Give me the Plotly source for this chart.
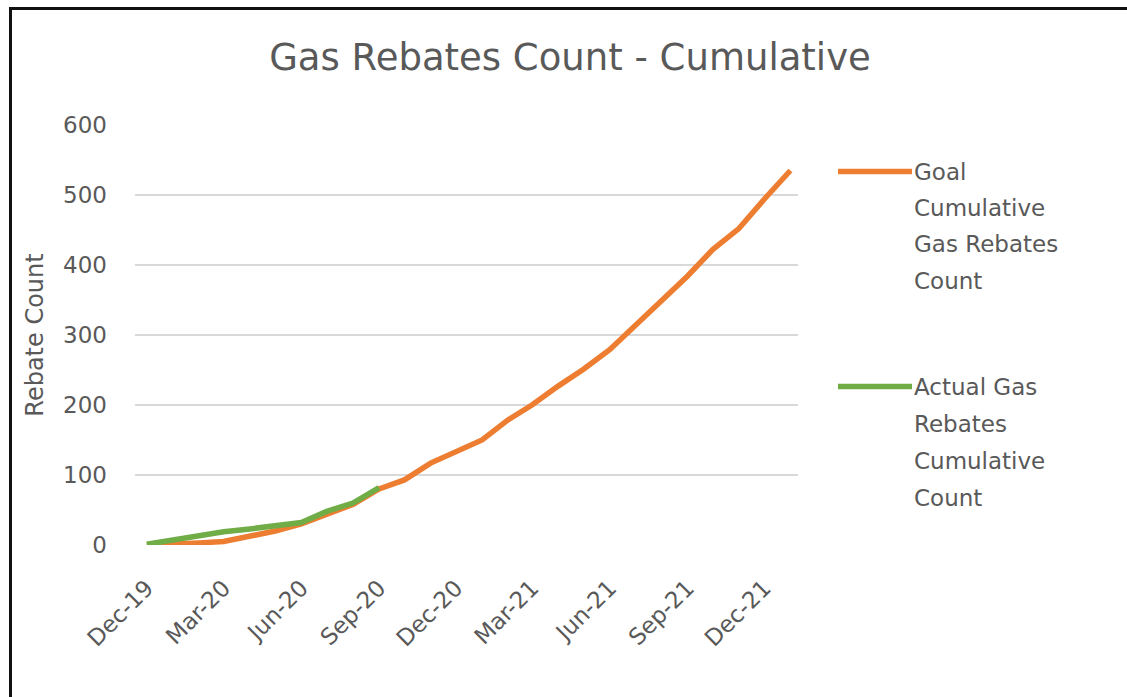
import plotly.graph_objects as go

months = ["2019-12-01", "2020-01-01", "2020-02-01", "2020-03-01", "2020-04-01", "2020-05-01",
          "2020-06-01", "2020-07-01", "2020-08-01", "2020-09-01", "2020-10-01", "2020-11-01",
          "2020-12-01", "2021-01-01", "2021-02-01", "2021-03-01", "2021-04-01", "2021-05-01",
          "2021-06-01", "2021-07-01", "2021-08-01", "2021-09-01", "2021-10-01", "2021-11-01",
          "2021-12-01", "2022-01-01"]
goal = [0, 1, 3, 5, 12, 20, 30, 44, 58, 80, 93, 117, 134, 150, 179, 200, 227, 251, 279,
        313, 347, 384, 422, 452, 494, 535]
actual_months = months[:10]
actual = [1, 7, 14, 19, 23, 27, 32, 48, 60, 82]

tick_vals = ["2019-12-01", "2020-03-01", "2020-06-01", "2020-09-01", "2020-12-01",
             "2021-03-01", "2021-06-01", "2021-09-01", "2021-12-01"]
tick_text = ["Dec-19", "Mar-20", "Jun-20", "Sep-20", "Dec-20", "Mar-21", "Jun-21", "Sep-21", "Dec-21"]

goal_name = ["Goal", "Cumulative", "Gas Rebates", "Count"]
actual_name = ["Actual Gas", "Rebates", "Cumulative", "Count"]

ORANGE = "#ED7D31"
GREEN = "#70AD47"
TXT = "#595959"
FONT = "DejaVu Sans"

W, H = 1127, 697
L, R, T, B = 135, 329, 125, 152
pw, ph = W - L - R, H - T - B


def px(x):
    return (x - L) / pw


def py(y):
    return (H - B - y) / ph


fig = go.Figure()
fig.add_trace(go.Scatter(x=months, y=goal, mode="lines", name=" ".join(goal_name),
                         line=dict(color=ORANGE, width=5.5), showlegend=False))
fig.add_trace(go.Scatter(x=actual_months, y=actual, mode="lines", name=" ".join(actual_name),
                         line=dict(color=GREEN, width=5.5), showlegend=False))

shapes = [
    dict(type="line", xref="paper", yref="paper", x0=px(10.5), x1=px(10.5), y0=py(8.5), y1=py(H + 5),
         line=dict(color="#111111", width=3)),
    dict(type="line", xref="paper", yref="paper", x0=px(9), x1=px(W + 5), y0=py(8.5), y1=py(8.5),
         line=dict(color="#111111", width=3)),
    dict(type="line", xref="paper", yref="paper", x0=px(838), x1=px(912), y0=py(171.5), y1=py(171.5),
         line=dict(color=ORANGE, width=5.5)),
    dict(type="line", xref="paper", yref="paper", x0=px(838), x1=px(912), y0=py(386.5), y1=py(386.5),
         line=dict(color=GREEN, width=5.5)),
]

annotations = []
for k, t in enumerate(goal_name):
    annotations.append(dict(text=t, xref="paper", yref="paper", x=px(912), y=py(172 + 36.2 * k),
                            xanchor="left", yanchor="middle", showarrow=False,
                            font=dict(family=FONT, size=23, color=TXT)))
for k, t in enumerate(actual_name):
    annotations.append(dict(text=t, xref="paper", yref="paper", x=px(912), y=py(387 + 37 * k),
                            xanchor="left", yanchor="middle", showarrow=False,
                            font=dict(family=FONT, size=23, color=TXT)))

fig.update_layout(
    width=W, height=H,
    margin=dict(l=L, r=R, t=T, b=B),
    paper_bgcolor="white", plot_bgcolor="white",
    title=dict(text="Gas Rebates Count - Cumulative", x=570 / W, xanchor="center",
               y=1 - 57 / H, yanchor="middle",
               font=dict(family=FONT, size=37, color=TXT)),
    xaxis=dict(type="date", range=["2019-11-17", "2022-01-10"], tickmode="array",
               tickvals=tick_vals, ticktext=tick_text, tickangle=-45, showgrid=False,
               zeroline=False, showline=False, ticks="", ticklen=0, ticklabelstandoff=24,
               tickfont=dict(family=FONT, size=23, color=TXT)),
    yaxis=dict(range=[0, 600], dtick=100, showgrid=True, gridcolor="#D9D9D9", gridwidth=2,
               zeroline=False, showline=False, ticks="", ticklabelstandoff=27,
               tickfont=dict(family=FONT, size=23, color=TXT),
               title=dict(text="Rebate Count", font=dict(family=FONT, size=24, color=TXT), standoff=12)),
    shapes=shapes,
    annotations=annotations,
    showlegend=False,
)

fig.write_html("out.html", config={"displayModeBar": False},
               post_script="document.body.style.margin='0';document.body.style.overflow='hidden';")
